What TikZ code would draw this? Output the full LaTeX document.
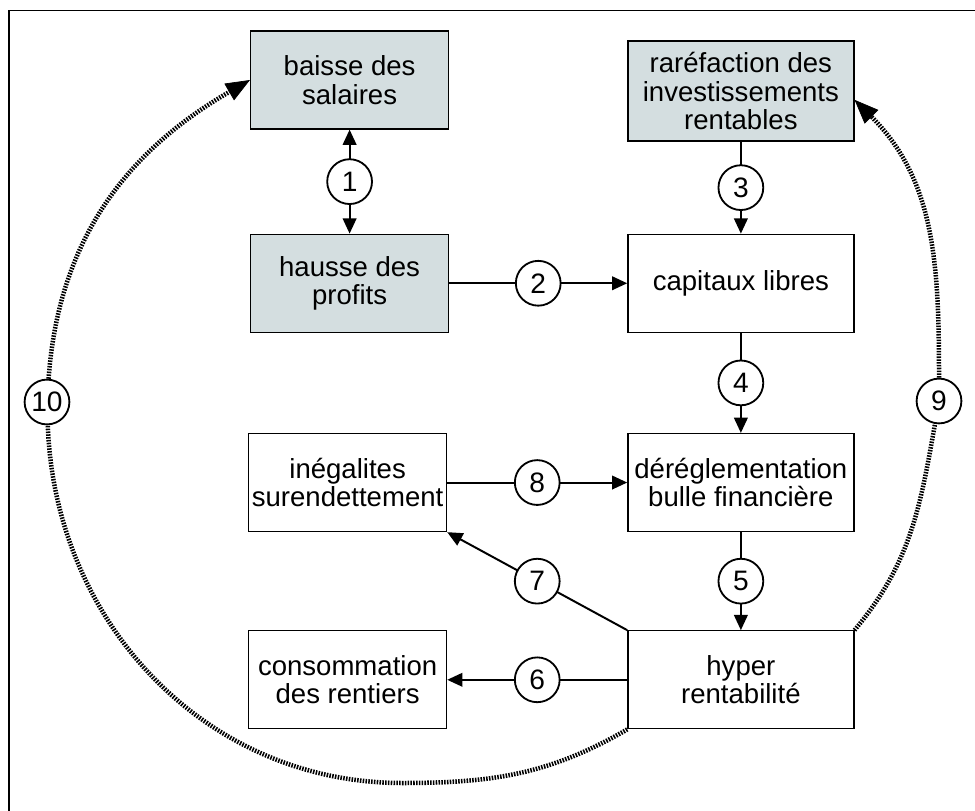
\documentclass[tikz,border=0pt]{standalone}
\usepackage{xcolor}
\usepackage{fontspec}
\setmainfont{Liberation Sans}
\usepackage{tikz}
\usetikzlibrary{positioning,arrows.meta}

\definecolor{boxfill}{RGB}{212,222,224}

\begin{document}
\begin{tikzpicture}[
    >={Triangle[length=3.8mm,width=3.4mm]},
    box/.style = {draw, line width=0.9pt, align=center, inner sep=2pt,
      minimum width=4.95cm, minimum height=2.45cm,
      font=\fontsize{19.6}{20.3}\selectfont},
    gbox/.style = {box, fill=boxfill},
    wide/.style = {minimum width=5.65cm},
    num/.style = {draw, circle, fill=white, line width=1.3pt, inner sep=0pt,
      minimum size=1.12cm, font=\fontsize{20}{21}\selectfont},
    flow/.style = {line width=1.4pt, ->},
    dotline/.style = {line width=3.2pt, dash pattern=on 1.1pt off 0.9pt},
    feedback/.style = {dotline, -{Triangle[length=6mm,width=4.8mm,line width=0.5pt]}},
  ]

      \useasboundingbox[fill=white] (0,0) rectangle (24.375,-20.275);
      \draw[line width=1pt] (24.375,-0.26) -| (0.23,-20.275);

      \node[gbox] (baisse) at (8.74,-2.0) {baisse des\\salaires};
      \node[gbox, below = 2.6cm of baisse] (hausse) {hausse des\\profits};
      \node[box, wide, right = 4.45cm of hausse] (capitaux) {capitaux libres};
      \node[gbox, wide, minimum height=2.5cm, above = 2.3cm of capitaux] (rarefaction)
        {raréfaction des\\investissements\\rentables};
      \node[box, wide, below = 2.5cm of capitaux] (dereg) {déréglementation\\bulle financière};
      \node[box, wide, below = 2.45cm of dereg] (hyper) {hyper\\rentabilité};
      \node[box, left = 4.5cm of dereg] (inegal) {inégalites\\surendettement};
      \node[box, left = 4.5cm of hyper] (conso) {consommation\\des rentiers};

      \node[num] (c10) at (1.175,-10.05) {10};
      \node[num] (c9) at (23.475,-10.025) {9};
      \coordinate (bottom) at (10.05,-19.575);

      \draw[flow, <->] (baisse) -- node[num] {1} (hausse);
      \draw[flow] (hausse) -- node[num] {2} (capitaux);
      \draw[flow] (rarefaction) -- node[num] {3} (capitaux);
      \draw[flow] (capitaux) -- node[num] {4} (dereg);
      \draw[flow] (dereg) -- node[num] {5} (hyper);
      \draw[flow] (hyper) -- node[num] {6} (conso);
      \draw[flow] (hyper.north west) -- node[num] {7} (inegal.south east);
      \draw[flow] (inegal) -- node[num] {8} (dereg);

      \draw[dotline] (hyper.south west) to[out=-150, in=0] (bottom)
        to[out=180, in=-88] (c10);
      \draw[feedback] (c10) to[out=86, in=-150] (baisse.west);
      \draw[dotline] (hyper.north east) to[out=50, in=-100] (c9);
      \draw[feedback] (c9) to[out=90, in=-45] ([yshift=-2.2mm]rarefaction.east);

\end{tikzpicture}
\end{document}
